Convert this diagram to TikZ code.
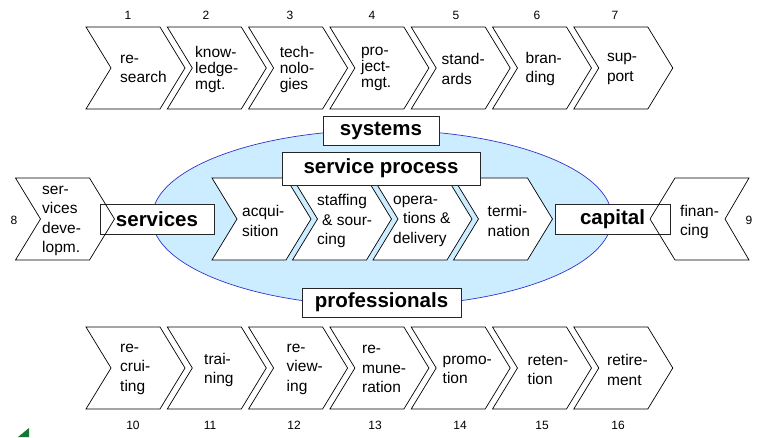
\documentclass[tikz,border=0pt]{standalone}
\usepackage{fontspec}
\setmainfont{Liberation Sans}
\definecolor{ellfill}{RGB}{204,236,255}
\definecolor{ellline}{RGB}{51,51,204}
\definecolor{greenmark}{RGB}{20,120,50}
\newcommand{\mychev}[3]{% #1 left x, #2 centre y, #3 style
  \path[#3] (#1,#2-41) -- ++(74,0) -- ++(25,41) -- ++(-25,41) -- ++(-74,0) -- ++(25,-41) -- cycle;}
\tikzset{
  chevline/.style={draw=black, line width=0.7pt, line join=miter},
  chevfill/.style={chevline, fill=white},
  chevtext/.style={inner sep=0pt, align=left, anchor=west, font=\fontsize{15.5}{19.5}\selectfont},
  tighttext/.style={inner sep=0pt, align=left, anchor=west, font=\fontsize{15.5}{16}\selectfont},
  numtext/.style={inner sep=0pt, font=\fontsize{12}{14}\selectfont},
  labelbox/.style={draw=black!85, line width=1pt, fill=white, inner sep=0pt,
    font=\bfseries\fontsize{20.5}{24}\selectfont},
}
\begin{document}
\begin{tikzpicture}[x=1pt,y=-1pt]
\useasboundingbox (0,0) rectangle (766,437);

% ---------- top row ----------
\mychev{86}{68}{chevline}
\mychev{167.3}{68}{chevline}
\mychev{248.6}{68}{chevline}
\mychev{329.9}{68}{chevline}
\mychev{411.2}{68}{chevline}
\mychev{492.5}{68}{chevline}
\mychev{573.8}{68}{chevline}
\node[chevtext] (t1) at (120,69) {re-\\search};
\node[tighttext] (t2) at (195,69) {know-\\ledge-\\mgt.};
\node[tighttext] (t3) at (279.6,69) {tech-\\nolo-\\gies};
\node[tighttext] (t4) at (360.9,69) {pro-\\ject-\\mgt.};
\node[chevtext] (t5) at (441.5,69) {stand-\\ards};
\node[chevtext] (t6) at (525.5,69) {bran-\\ding};
\node[chevtext] (t7) at (606.8,69) {sup-\\port};
\node[numtext] (n1) at (128,15) {1};
\node[numtext] (n2) at (206,15) {2};
\node[numtext] (n3) at (290,15) {3};
\node[numtext] (n4) at (372,15) {4};
\node[numtext] (n5) at (456,15) {5};
\node[numtext] (n6) at (537,15) {6};
\node[numtext] (n7) at (615,15) {7};

% ---------- ellipse and middle row ----------
\path[fill=ellfill, draw=ellline, line width=0.7pt] (382,218) ellipse [x radius=230, y radius=88];
\mychev{212}{219}{chevfill}
\mychev{292.5}{219}{chevfill}
\mychev{373}{219}{chevfill}
\mychev{453.5}{219}{chevfill}
\node[chevtext] (m1) at (242,221) {acqui-\\sition};
\node[chevtext] (m2) at (317,221) {staffing\\\hspace*{5pt}\& sour-\\cing};
\node[chevtext] (m3) at (393,221) {opera-\\\hspace*{10pt}tions \&\\delivery};
\node[chevtext] (m4) at (487.5,221) {termi-\\nation};

\node[labelbox, minimum width=116, minimum height=29] (systems) at (381,130.5) {systems};
\node[labelbox, minimum width=198, minimum height=33] (process) at (381,168.5) {service process};
\node[labelbox, minimum width=159, minimum height=29] (prof) at (381.5,302.5) {professionals};
\node[labelbox, minimum width=114, minimum height=30] (services) at (157,219) {services};
\node[labelbox, minimum width=115, minimum height=30] (capital) at (612.5,219) {capital};

% services development (8)
\mychev{15.5}{219}{chevline}
\node[chevtext] (s8) at (42,221) {ser-\\vices\\deve-\\lopm.};
\node[numtext] (n8) at (14,220) {8};
% financing (9), pointing left
\path[chevline] (675,178) -- (749,178) -- (725,219) -- (749,260) -- (675,260) -- (650,219) -- cycle;
\node[chevtext] (s9) at (680,222) {finan-\\cing};
\node[numtext] (n9) at (749,220) {9};

% ---------- bottom row ----------
\mychev{86}{368}{chevline}
\mychev{167.3}{368}{chevline}
\mychev{248.6}{368}{chevline}
\mychev{329.9}{368}{chevline}
\mychev{411.2}{368}{chevline}
\mychev{492.5}{368}{chevline}
\mychev{573.8}{368}{chevline}
\node[chevtext] (b1) at (120,369) {re-\\crui-\\ting};
\node[chevtext] (b2) at (204,370) {trai-\\ning};
\node[chevtext] (b3) at (286.5,369) {re-\\view-\\ing};
\node[chevtext] (b4) at (362,369) {re-\\mune-\\ration};
\node[chevtext] (b5) at (442.5,370) {promo-\\tion};
\node[chevtext] (b6) at (527.5,370) {reten-\\tion};
\node[chevtext] (b7) at (607,370) {retire-\\ment};
\node[numtext] (n10) at (133,425) {10};
\node[numtext] (n11) at (210,425) {11};
\node[numtext] (n12) at (294,425) {12};
\node[numtext] (n13) at (375,425) {13};
\node[numtext] (n14) at (460,425) {14};
\node[numtext] (n15) at (542,425) {15};
\node[numtext] (n16) at (618,425) {16};

% small green mark at bottom left
\fill[greenmark] (18,437) -- (29,428) -- (29,437) -- cycle;
\end{tikzpicture}
\end{document}
